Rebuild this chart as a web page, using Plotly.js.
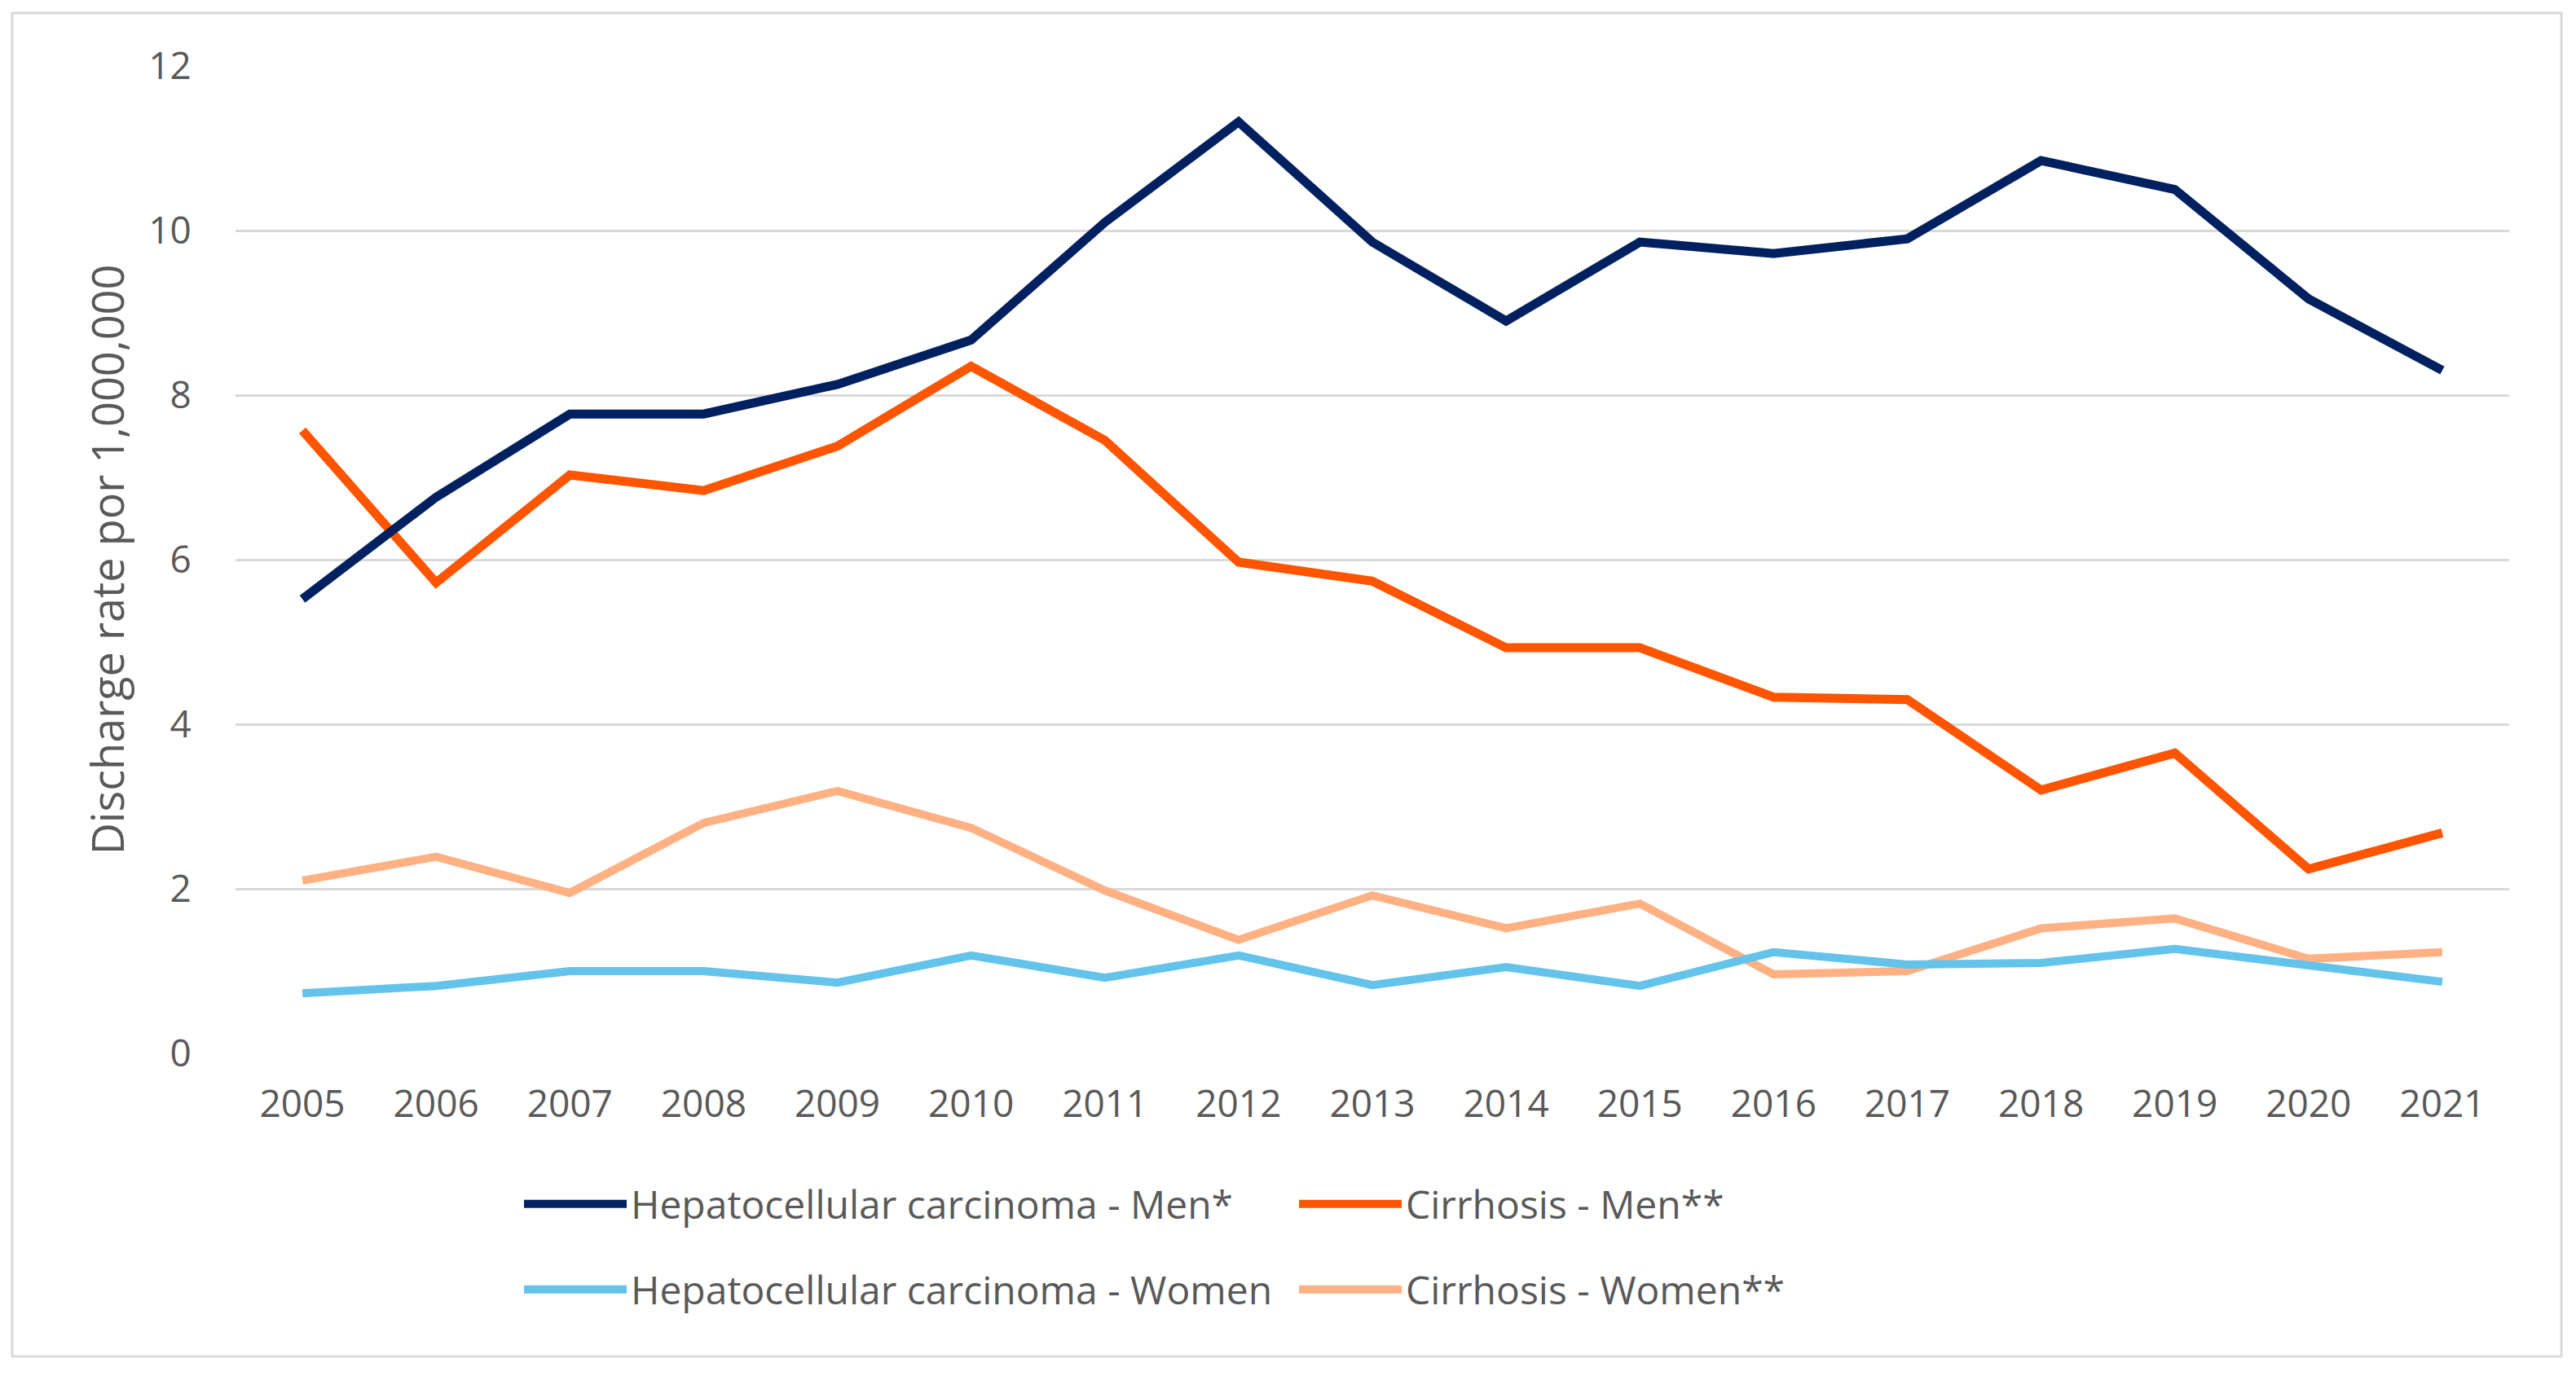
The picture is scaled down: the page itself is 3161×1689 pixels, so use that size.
<!DOCTYPE html>
<html>
<head>
<meta charset="utf-8">
<script src="https://cdn.plot.ly/plotly-3.0.1.min.js"></script>
<style>html,body{margin:0;padding:0;background:#fff;}#chart{width:3161px;height:1689px;}</style>
</head>
<body>
<div id="chart"></div>
<script>
// ---- data ----
const years = ['2005','2006','2007','2008','2009','2010','2011','2012','2013','2014','2015','2016','2017','2018','2019','2020','2021'];
const hccMen    = [5.52,6.76,7.77,7.77,8.13,8.67,10.10,11.32,9.86,8.90,9.86,9.72,9.90,10.85,10.50,9.17,8.30];
const cirrMen   = [7.57,5.72,7.03,6.84,7.38,8.35,7.45,5.97,5.74,4.93,4.93,4.33,4.30,3.20,3.65,2.24,2.68];
const hccWomen  = [0.73,0.82,1.00,1.00,0.86,1.19,0.92,1.19,0.83,1.05,0.82,1.23,1.08,1.10,1.27,1.06,0.87];
const cirrWomen = [2.10,2.39,1.95,2.80,3.19,2.74,1.98,1.38,1.92,1.52,1.82,0.96,1.00,1.52,1.64,1.15,1.23];
const seriesNames = ['Hepatocellular carcinoma - Men*','Cirrhosis - Men**','Hepatocellular carcinoma - Women','Cirrhosis - Women**'];
const yTicks = [0,2,4,6,8,10,12];

// ---- layout geometry (pixels) ----
const W = 3161, H = 1689;
const PL = 289, PR = 3079, PT = 81, PB = 1293;
const fx = px => (px - PL) / (PR - PL);
const fy = py => (PB - py) / (PB - PT);

const FONT = '"Open Sans", "Noto Sans", sans-serif';
const GREY = '#595959';

const colors = ['#002060','#FF5500','#63C3EA','#FFB183'];
const widths = [11, 11, 10, 10];
const values = [hccMen, cirrMen, hccWomen, cirrWomen];
const legendIds = ['legend','legend','legend2','legend2'];

const traces = values.map((v,i) => ({
  type: 'scatter', mode: 'lines', x: years, y: v, name: seriesNames[i],
  line: {color: colors[i], width: widths[i], shape: 'linear'},
  legend: legendIds[i], hoverinfo: 'skip'
}));
// draw women first so men lines sit on top
const ordered = [traces[3], traces[2], traces[1], traces[0]];

const legendCommon = {
  orientation: 'h', xanchor: 'left', yanchor: 'middle',
  font: {family: FONT, size: 48, color: GREY},
  bgcolor: 'rgba(0,0,0,0)', borderwidth: 0,
  itemwidth: 126, entrywidth: 810, entrywidthmode: 'pixels',
  traceorder: 'reversed', itemclick: false, itemdoubleclick: false
};

const layout = {
  width: W, height: H,
  margin: {l: PL, r: W - PR, t: PT, b: H - PB, pad: 0},
  paper_bgcolor: '#ffffff', plot_bgcolor: '#ffffff',
  font: {family: FONT, size: 46, color: GREY},
  showlegend: true,
  xaxis: {
    type: 'category', range: [-0.5, 16.5], fixedrange: true,
    showgrid: false, zeroline: false, showline: false,
    ticks: 'outside', ticklen: 22, tickcolor: 'rgba(0,0,0,0)',
    tickfont: {family: FONT, size: 46, color: GREY}
  },
  yaxis: {
    range: [0, 12], tickvals: yTicks, fixedrange: true,
    showgrid: true, gridcolor: '#D9D9D9', gridwidth: 3,
    zeroline: false, showline: false,
    ticks: 'outside', ticklen: 44, tickcolor: 'rgba(0,0,0,0)',
    tickfont: {family: FONT, size: 46, color: GREY},
    title: {text: 'Discharge rate por 1,000,000', font: {family: FONT, size: 54, color: GREY}, standoff: 12}
  },
  legend: Object.assign({}, legendCommon, {x: fx(638), y: fy(1478)}),
  legend2: Object.assign({}, legendCommon, {x: fx(638), y: fy(1583)}),
  shapes: [{
    type: 'rect', xref: 'paper', yref: 'paper', layer: 'below',
    x0: fx(15), x1: fx(3143), y0: fy(1665), y1: fy(16),
    line: {color: '#D9D9D9', width: 3}, fillcolor: 'rgba(0,0,0,0)'
  }]
};

Plotly.newPlot('chart', ordered, layout, {staticPlot: true, displayModeBar: false});
</script>
</body>
</html>
